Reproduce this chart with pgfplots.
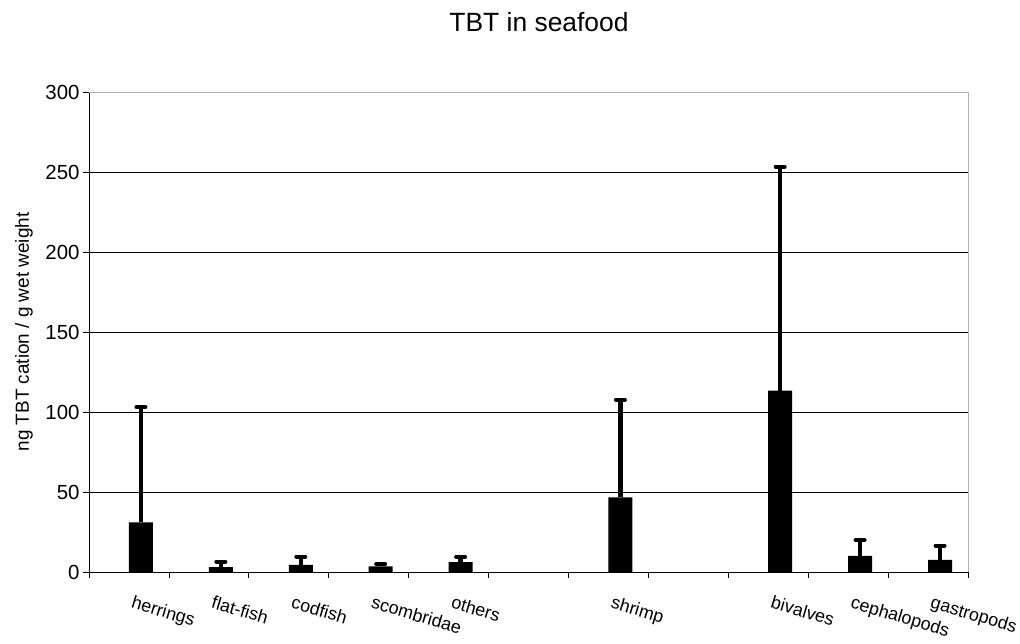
\documentclass[border=0pt]{standalone}
\usepackage{fontspec}
\setmainfont{Liberation Sans}
\usepackage{pgfplots}
\pgfplotsset{compat=1.18}

\begin{document}
\begin{tikzpicture}
\useasboundingbox (0,0) rectangle (1020bp,644bp);
\begin{axis}[
  at={(89bp,72bp)}, anchor=south west,
  scale only axis, width=879bp, height=480bp,
  xmin=0, xmax=11, ymin=0, ymax=300,
  axis x line*=bottom, axis y line*=left,
  axis line style={-, black, line width=0.9bp},
  xtick={0,...,11}, xticklabels={},
  ytick={0,50,...,300},
  tick align=outside, major tick length=6bp,
  tick style={black, line width=0.8bp},
  ymajorgrids, grid style={black, line width=0.8bp},
  extra x ticks={0.5,1.5,2.5,3.5,4.5,6.5,8.5,9.5,10.5},
  extra x tick labels={herrings,flat-fish,codfish,scombridae,others,shrimp,bivalves,cephalopods,gastropods},
  extra x tick style={major tick length=0pt, grid=none,
    tick label style={xshift=3bp, yshift=-19bp, rotate=-16.5, anchor=north west,
      font=\fontsize{18}{20}\selectfont}},
  yticklabel style={font=\fontsize{20.5}{22}\selectfont},
  /pgf/number format/assume math mode=true,
  ylabel={ng TBT cation / g wet weight},
  every axis y label/.style={at={(axis description cs:0,0.5)}, xshift=-65bp, rotate=90, anchor=center,
    font=\fontsize{19}{21}\selectfont},
  title={TBT in seafood},
  title style={at={(axis description cs:0.5,1)}, anchor=base, yshift=55bp, xshift=10.5bp,
    font=\fontsize{26.5}{30}\selectfont},
  clip=false,
]
% plot-area frame on the top and right sides
\draw[gray!60, line width=0.9bp] (rel axis cs:0,1) -- (rel axis cs:1,1) -- (rel axis cs:1,0);

\addplot[ybar, bar width=24bp, bar shift=0pt, fill=black, draw=none,
  error bars/.cd, y dir=plus, y explicit,
  error bar style={line width=4.5bp, black},
  error mark options={rotate=90, line width=4bp, mark size=4.5bp, line cap=round, black}]
coordinates {
  (0.65,31)    +- (0,72)
  (1.65,3)     +- (0,3.5)
  (2.65,4.4)   +- (0,5.2)
  (3.65,3.5)   +- (0,1.5)
  (4.65,6.2)   +- (0,3.4)
  (6.65,46.7)  +- (0,61)
  (8.65,113.3) +- (0,140)
  (9.65,10)    +- (0,10)
  (10.65,7.5)  +- (0,9)
};
\end{axis}
\end{tikzpicture}
\end{document}
